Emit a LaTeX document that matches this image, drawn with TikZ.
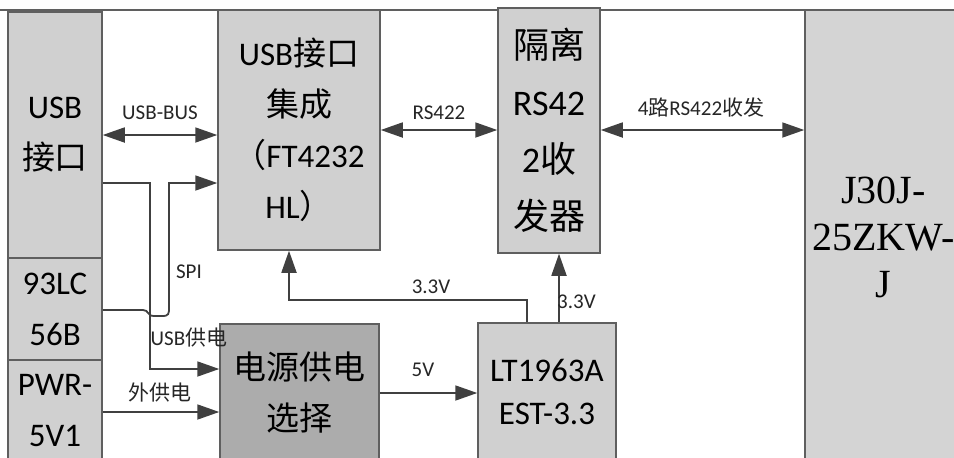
\documentclass[tikz,border=0pt]{standalone}
\usepackage{fontspec}
\setmainfont{Carlito}
\newfontfamily\cjk{Noto Sans CJK SC}
\newfontfamily\tms{Liberation Serif}
\usetikzlibrary{arrows.meta}
\definecolor{boxfill}{RGB}{208,208,208}
\definecolor{darkfill}{RGB}{172,172,172}
\definecolor{conbox}{RGB}{212,212,212}
\definecolor{linegray}{RGB}{64,64,64}
\definecolor{edgegray}{RGB}{95,95,95}
\newcommand{\zh}[1]{{\cjk #1}}
\begin{document}
\begin{tikzpicture}[x=1pt,y=-1pt,
  blk/.style={draw=edgegray, line width=1.5pt, fill=boxfill, inner sep=0pt, align=center,
              font=\fontsize{33}{51}\selectfont},
  conn/.style={draw=linegray, line width=1.8pt},
  arr/.style={conn, -{Triangle[length=22pt,width=15pt]}},
  darr/.style={conn, {Triangle[length=22pt,width=15pt]}-{Triangle[length=22pt,width=15pt]}},
  lbl/.style={font=\fontsize{21}{24}\selectfont, inner sep=0pt, text=black!85},
]
\useasboundingbox (0,0) rectangle (954,458);
\fill[white] (0,0) rectangle (954,458);
\draw[edgegray, line width=1.5pt] (0,10) -- (805,10);

% blocks
\node[blk, minimum width=94pt, minimum height=246pt] (usb) at (55,135) {USB\\\zh{接口}};
\node[blk, minimum width=94pt, minimum height=102pt] (eep) at (55,309) {93LC\\56B};
\node[blk, minimum width=94pt, minimum height=102pt] (pwr) at (55,411) {PWR-\\5V1};
\node[blk, minimum width=162pt, minimum height=240pt] (ft) at (299,130)
  {USB\zh{接口}\\\zh{集成}\\\zh{（}FT4232\\HL\zh{）}};
\node[blk, minimum width=102pt, minimum height=245pt, font=\fontsize{36}{57}\selectfont] (iso) at (549,130.5)
  {\zh{隔离}\\RS42\\2\zh{收}\\\zh{发器}};
\node[blk, fill=conbox, minimum width=157pt, minimum height=455pt, font=\tms\fontsize{40}{47}\selectfont] (j30) at (883.5,237.5)
  {J30J-\\25ZKW-\\J};
\node[blk, fill=darkfill, minimum width=159pt, minimum height=137pt] (psel) at (299.5,392.5)
  {\zh{电源供电}\\\zh{选择}};
\node[blk, minimum width=138pt, minimum height=137pt, font=\fontsize{33}{43}\selectfont] (ldo) at (547,391.5)
  {LT1963A\\EST-3.3};

% connectors
\draw[darr] (usb.east |- 0,135) -- (ft.west |- 0,135);
\draw[darr] (ft.east |- 0,130) -- (iso.west |- 0,130);
\draw[darr] (iso.east |- 0,130) -- (j30.west |- 0,130);
\draw[arr] (usb.east |- 0,183) -- (150,183) -- (150,369) -- (psel.west |- 0,369);
\draw[arr] (eep.east |- 0,310) -- (143,310) .. controls (149,310) and (147,316) .. (154,316)
  -- (162,316) .. controls (169,316) and (169,314) .. (169,307) -- (169,183) -- (ft.west |- 0,183);
\draw[arr] (pwr.east |- 0,412) -- (psel.west |- 0,412);
\draw[arr] (psel.east |- 0,393) -- (ldo.west |- 0,393);
\draw[arr] (ldo.north -| 527,0) -- (527,300) -- (289,300) -- (ft.south -| 289,0);
\draw[arr] (ldo.north -| 559,0) -- (iso.south -| 559,0);

% labels
\node[lbl] (lbus) at (160,113) {USB-BUS};
\node[lbl] (lrs) at (439,113) {RS422};
\node[lbl] (l4) at (701,108) {4\zh{路}RS422\zh{收发}};
\node[lbl] (lspi) at (189,272) {SPI};
\node[lbl] (lusbp) at (189,338) {USB\zh{供电}};
\node[lbl] (lext) at (160,393) {\zh{外供电}};
\node[lbl] (l5v) at (423,370) {5V};
\node[lbl] (l33a) at (431,287) {3.3V};
\node[lbl, anchor=west] (l33b) at (557,302) {3.3V};
\end{tikzpicture}
\end{document}
